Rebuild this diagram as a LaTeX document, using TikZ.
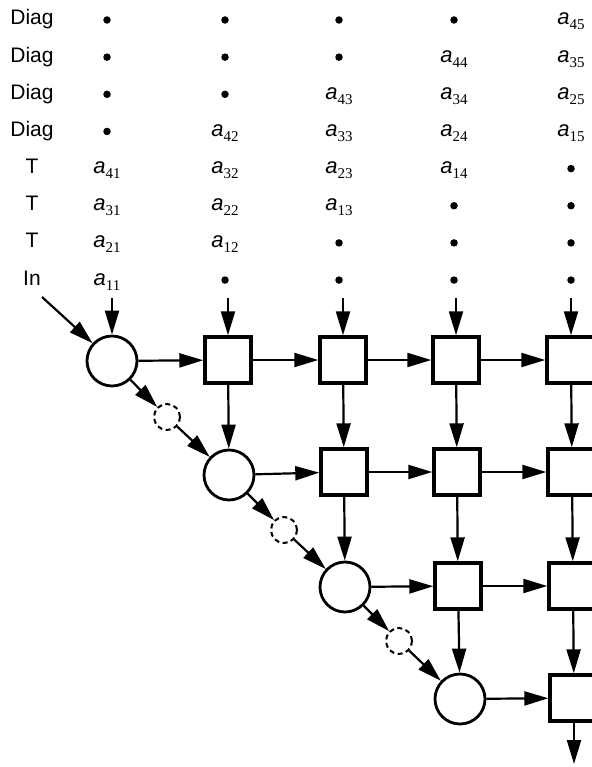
\documentclass[tikz,border=0pt]{standalone}
\usepackage{fontspec}
\setmainfont{Liberation Sans}
\newfontfamily\subfont{Liberation Serif}
\usetikzlibrary{arrows.meta}
\begin{document}
\begin{tikzpicture}[x=1pt,y=-1pt,
  lbl/.style={font=\fontsize{21}{25}\selectfont, anchor=base, inner sep=0},
  ent/.style={font=\fontsize{22}{26}\selectfont, anchor=base, inner sep=0},
  pt/.style={circle, fill, inner sep=0, minimum size=7.5pt},
  pe/.style={circle, draw, line width=2.8pt, minimum size=50pt, inner sep=0},
  cell/.style={draw, line width=3.4pt, minimum size=46pt, inner sep=0},
  ghost/.style={circle, draw, dash pattern=on 5pt off 3.5pt, line width=2pt, minimum size=26pt, inner sep=0},
  flow/.style={line width=2.2pt, -{Triangle[length=24pt,width=14pt]}},
]
\useasboundingbox (0,0) rectangle (591,767);
% row labels
\foreach \k/\t in {0/Diag,1/Diag,2/Diag,3/Diag,4/T,5/T,6/T,7/In}
  \node[lbl] (L\k) at (32,{25+37.15*\k}) {\t};
% data entries
\foreach \c/\x in {1/107,2/225,3/339,4/454,5/571}{
  \foreach \k in {0,...,7}{
    \pgfmathtruncatemacro\i{9-\c-\k}
    \ifnum\i<1
      \node[pt] (m\c\k) at (\x,{25+37.15*\k-5}) {};
    \else\ifnum\i>4
      \node[pt] (m\c\k) at (\x,{25+37.15*\k-5}) {};
    \else
      \node[ent] (m\c\k) at (\x,{25+37.15*\k}) {\textit{a}\raisebox{-5pt}{\subfont\fontsize{15}{15}\selectfont\i\c}};
    \fi\fi
  }
}
% processing elements
\node[pe] (c1) at (112,361) {};
\node[pe] (c2) at (229,475) {};
\node[pe] (c3) at (345,587) {};
\node[pe] (c4) at (460,699) {};
\node[cell] (b21) at (228,360) {};
\node[cell] (b31) at (343,360) {};
\node[cell] (b41) at (456,360) {};
\node[cell, minimum width=48pt] (b51) at (571,360) {};
\node[cell] (b32) at (344,472) {};
\node[cell] (b42) at (457,472) {};
\node[cell, minimum width=48pt] (b52) at (572,472) {};
\node[cell] (b43) at (458,586) {};
\node[cell, minimum width=48pt] (b53) at (573,586) {};
\node[cell, minimum width=48pt] (b54) at (574,698) {};
\node[ghost] (d1) at (167,417) {};
\node[ghost] (d2) at (284,530) {};
\node[ghost] (d3) at (399,641) {};
% free ends
\coordinate (in) at (42,297);
\coordinate (t1) at (112,298);
\coordinate (t2) at (228,298);
\coordinate (t3) at (343,298);
\coordinate (t4) at (456,298);
\coordinate (t5) at (571,298);
\coordinate (bot) at (574,764);
% connectors
\draw[flow] (in) -- (c1);
\draw[flow] (t1) -- (c1);
\draw[flow] (t2) -- (b21);
\draw[flow] (t3) -- (b31);
\draw[flow] (t4) -- (b41);
\draw[flow] (t5) -- (b51);
\draw[flow] (c1) -- (b21);
\draw[flow] (b21) -- (b31);
\draw[flow] (b31) -- (b41);
\draw[flow] (b41) -- (b51);
\draw[flow] (c2) -- (b32);
\draw[flow] (b32) -- (b42);
\draw[flow] (b42) -- (b52);
\draw[flow] (c3) -- (b43);
\draw[flow] (b43) -- (b53);
\draw[flow] (c4) -- (b54);
\draw[flow] (b21) -- (c2);
\draw[flow] (b31) -- (b32);
\draw[flow] (b32) -- (c3);
\draw[flow] (b41) -- (b42);
\draw[flow] (b42) -- (b43);
\draw[flow] (b43) -- (c4);
\draw[flow] (b51) -- (b52);
\draw[flow] (b52) -- (b53);
\draw[flow] (b53) -- (b54);
\draw[flow] (b54) -- (bot);
\draw[flow] (c1) -- (d1);
\draw[flow] (d1) -- (c2);
\draw[flow] (c2) -- (d2);
\draw[flow] (d2) -- (c3);
\draw[flow] (c3) -- (d3);
\draw[flow] (d3) -- (c4);
\end{tikzpicture}
\end{document}
